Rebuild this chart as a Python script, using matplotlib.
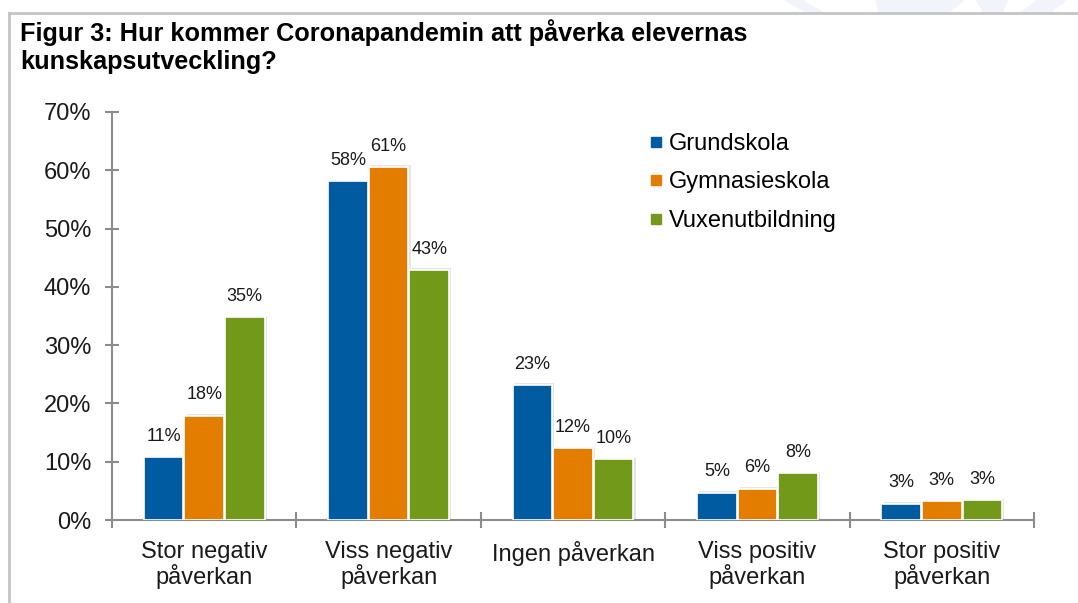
import numpy as np
import matplotlib.pyplot as plt
from matplotlib.lines import Line2D
from matplotlib.patches import Polygon

plt.rcParams['font.family'] = ['Liberation Sans', 'DejaVu Sans']

# data (percent)
categories = ['Stor negativ\npåverkan', 'Viss negativ\npåverkan', 'Ingen påverkan',
              'Viss positiv\npåverkan', 'Stor positiv\npåverkan']
series = ['Grundskola', 'Gymnasieskola', 'Vuxenutbildning']
grundskola = [10.8, 58.1, 23.2, 4.7, 2.8]
gymnasieskola = [17.9, 60.6, 12.3, 5.4, 3.2]
vuxenutbildning = [34.8, 42.9, 10.4, 8.0, 3.4]
labels = [
    ['11%', '58%', '23%', '5%', '3%'],
    ['18%', '61%', '12%', '6%', '3%'],
    ['35%', '43%', '10%', '8%', '3%'],
]
colors = ['#005ba1', '#e37d00', '#73991a']

fig = plt.figure(figsize=(10.78, 6.03), dpi=100)
ax = fig.add_axes([0.1039, 0.1376, 0.9592 - 0.1039, 0.8143 - 0.1376])

x = np.arange(len(categories))
w = 0.215
offsets = [-w - 0.005, 0, w + 0.005]
values = [grundskola, gymnasieskola, vuxenutbildning]

for i, (vals, col, off) in enumerate(zip(values, colors, offsets)):
    # soft shadow behind the bars
    ax.bar(x + off + 0.012, np.array(vals) + 0.25, width=w, color='#000000',
           alpha=0.10, linewidth=0, zorder=2)
    ax.bar(x + off, vals, width=w, color=col, edgecolor='white', linewidth=1.2,
           label=series[i], zorder=3)
    for xi, v, t in zip(x + off, vals, labels[i]):
        ax.text(xi, v + 2.1, t, ha='center', va='bottom', fontsize=13,
                color='#1a1a1a', zorder=4)

ax.set_xlim(-0.5, len(categories) - 0.5)
ax.set_ylim(0, 70)
ax.set_yticks(np.arange(0, 71, 10))
ax.set_yticklabels([f'{v}%' for v in range(0, 71, 10)], fontsize=17)

ax.set_xticks(np.arange(-0.5, len(categories), 1.0))
ax.set_xticklabels([])
ax.set_xticks(x, minor=True)
ax.set_xticklabels(categories, minor=True, fontsize=17, linespacing=1.05)

gray = '#8c8c8c'
for s in ['top', 'right']:
    ax.spines[s].set_visible(False)
for s in ['left', 'bottom']:
    ax.spines[s].set_color(gray)
    ax.spines[s].set_linewidth(1.5)
ax.tick_params(axis='y', which='major', direction='inout', length=10, width=1.5,
               color=gray, pad=10, labelcolor='#1a1a1a')
ax.tick_params(axis='x', which='major', direction='inout', length=11, width=1.5,
               color=gray)
ax.tick_params(axis='x', which='minor', length=0, pad=15, labelcolor='#1a1a1a')

handles = [Line2D([], [], marker='s', linestyle='none', markersize=7.5,
                  markerfacecolor=c, markeredgecolor=c) for c in colors]
ax.legend(handles, series, loc='upper left', bbox_to_anchor=(0.573, 0.972),
          frameon=False, fontsize=17, handlelength=0.5, handletextpad=0.3,
          labelspacing=0.7, borderaxespad=0)

fig.text(0.019, 0.968, 'Figur 3: Hur kommer Coronapandemin att påverka elevernas\n'
         'kunskapsutveckling?', fontsize=18.2, fontweight='bold', ha='left',
         va='top', linespacing=1.2, color='#000000')

# faint watermark shapes above the frame
wm = '#f1f4fa'
for pts in [[(0.727, 1.0), (0.748, 0.978), (0.766, 0.978), (0.745, 1.0)],
            [(0.812, 1.0), (0.815, 0.978), (0.88, 0.978), (0.895, 1.0)],
            [(0.905, 1.0), (0.912, 0.978), (0.93, 0.978), (0.935, 1.0)],
            [(0.962, 1.0), (0.945, 0.978), (0.975, 0.978), (0.99, 1.0)]]:
    fig.add_artist(Polygon(pts, closed=True, facecolor=wm, edgecolor='none',
                           transform=fig.transFigure))

# outer frame
fig.add_artist(Line2D([0.0085, 1.0], [0.978, 0.978], color='#c4c4c4', lw=2.0))
fig.add_artist(Line2D([0.0085, 0.0085], [0.0, 0.978], color='#c4c4c4', lw=2.0))

fig.savefig('out.png', dpi=100)
